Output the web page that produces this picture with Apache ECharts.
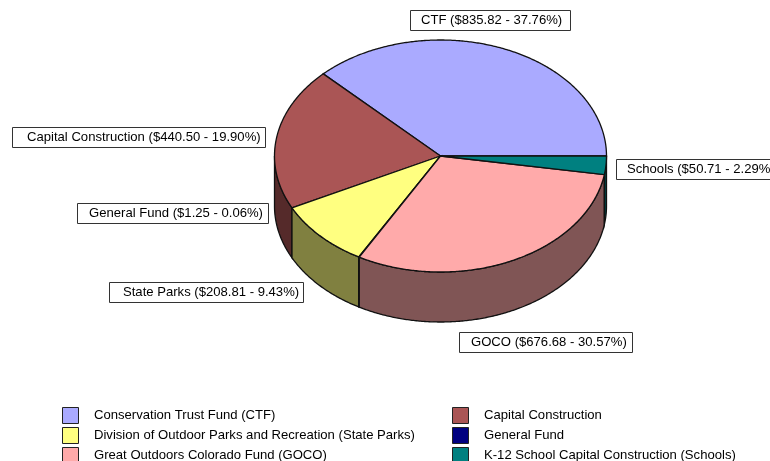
<!DOCTYPE html>
<html><head><meta charset="utf-8">
<style>html,body{margin:0;padding:0;background:#fff}#c{width:770px;height:461px}</style>
<script src="https://cdn.jsdelivr.net/npm/echarts@6/dist/echarts.min.js"></script>
</head><body><div id="c"></div>
<script>
// Data
const categories = ['Conservation Trust Fund (CTF)','Capital Construction','Division of Outdoor Parks and Recreation (State Parks)','General Fund','Great Outdoors Colorado Fund (GOCO)','K-12 School Capital Construction (Schools)'];
const shortNames = ['CTF','Capital Construction','State Parks','General Fund','GOCO','Schools'];
const amounts = [835.82,440.50,208.81,1.25,676.68,50.71];
const percents = ['37.76','19.90','9.43','0.06','30.57','2.29'];
const topColors = ['#AAAAFF','#AA5555','#FFFF80','#000080','#FFAAAA','#008080'];
const wallColors = ['#555580','#552A2A','#808040','#000040','#805555','#004040'];
// Layout
const cx=440.5, cy=156, rx=166, ry=116, depth=50;
const labelBoxes = [[410,10,160,20,11],[12,127,253,20,15],[109,282,194,20,14],[77,203,191,20,12],[459,332,173,20,12],[616,159,170,20,11]];

const total = amounts.reduce((a,b)=>a+b,0);
const DEG = Math.PI/180;
const innerShift = -1*DEG; // inner slice edges sit about a degree clockwise in the reference
function edge(sum){ const a=sum/total*2*Math.PI; return (sum<=0||sum>=total-1e-6)?a:a+innerShift; }
function pt(a,dy){return [cx+rx*Math.cos(a), cy-ry*Math.sin(a)+(dy||0)];}
function arcPts(a0,a1,dy){const n=Math.max(2,Math.ceil(Math.abs(a1-a0)/(0.5*DEG)));const r=[];for(let i=0;i<=n;i++){r.push(pt(a0+(a1-a0)*i/n,dy));}return r;}
const stroke={stroke:'#111',lineWidth:1.3};
function makeRender(idx){
  return function(params,api){
    const v=api.value(0);
    let before=0;for(let i=0;i<idx;i++)before+=amounts[i];
    const a0=edge(before), a1=edge(before+v);
    const children=[];
    const w0=Math.max(a0,Math.PI), w1=Math.min(a1,2*Math.PI);
    if(w1>w0){
      const points=arcPts(w0,w1,0).concat(arcPts(w1,w0,depth));
      children.push({type:'polygon',shape:{points},style:Object.assign({fill:wallColors[idx]},stroke)});
    }
    const pts=[[cx,cy]].concat(arcPts(a0,a1,0));
    children.push({type:'polygon',z2:10,shape:{points:pts},style:Object.assign({fill:topColors[idx]},stroke)});
    return {type:'group',children};
  };
}
const series=categories.map((name,i)=>({
  type:'custom',name,coordinateSystem:'none',data:[[amounts[i]]],
  renderItem:makeRender(i),silent:true,animation:false,
  itemStyle:{color:topColors[i],borderColor:'#222',borderWidth:1},
  encode:{value:0}
}));
const legendBase={orient:'vertical',itemWidth:16,itemHeight:16,itemGap:3,itemStyle:{borderColor:'#222',borderWidth:1},
  textStyle:{fontFamily:'Liberation Sans',fontSize:13.1,color:'#000',padding:[0,0,0,10.5]},top:402,height:70,selectedMode:false,icon:'rect'};
const labelGraphics=[];
labelBoxes.forEach((b,i)=>{
  labelGraphics.push({type:'rect',shape:{x:b[0]+.5,y:b[1]+.5,width:b[2],height:b[3]},style:{fill:'#fff',stroke:'#333',lineWidth:1},z:20});
  labelGraphics.push({type:'text',x:b[0]+b[4],y:b[1]+b[3]/2+.5,z:21,
    style:{text:shortNames[i]+' ($'+amounts[i].toFixed(2)+' - '+percents[i]+'%)',fill:'#000',font:'13.1px "Liberation Sans"',align:'left',verticalAlign:'middle'}});
});
const chart=echarts.init(document.getElementById('c'),null,{renderer:'canvas'});
chart.setOption({
  animation:false,backgroundColor:'#fff',
  legend:[
    Object.assign({},legendBase,{left:57,data:[categories[0],categories[2],categories[4]]}),
    Object.assign({},legendBase,{left:447,data:[categories[1],categories[3],categories[5]]})
  ],
  series,
  graphic:labelGraphics
});
</script></body></html>
